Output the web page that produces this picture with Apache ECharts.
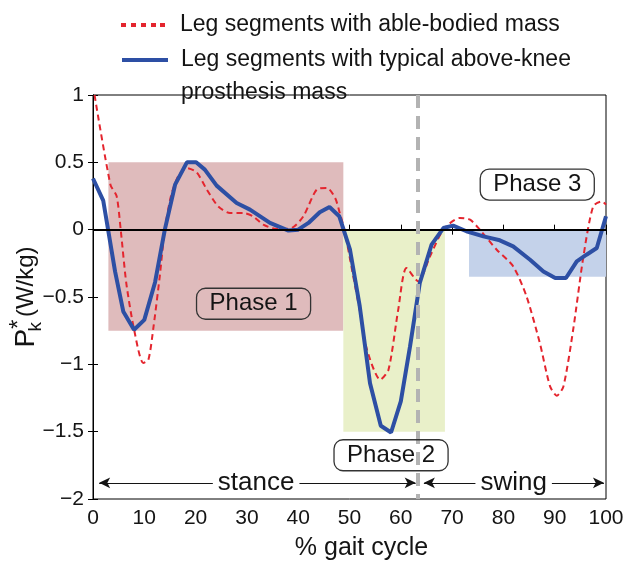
<!DOCTYPE html>
<html><head><meta charset="utf-8">
<script src="https://cdn.jsdelivr.net/npm/echarts@6/dist/echarts.min.js"></script>
<style>html,body{margin:0;padding:0;background:#fff}#c{width:631px;height:561px}</style>
</head><body><div id="c"></div>
<script>
// ---- data ----
const blueX = [0,2,4.3,5.9,8,10,12.1,14,16,18.3,20.1,21.8,24.1,28,30.6,34.5,38.1,40,42,44.2,46.1,48,50.1,52,54,56.1,58.1,60,61.8,63.7,66,68.3,70.2,72.8,76.1,79.3,81.9,85.2,87.8,90.1,92.2,94.3,96.2,98.2,100];
const blueY = [0.38,0.215,-0.31,-0.607,-0.743,-0.67,-0.39,0,0.334,0.5,0.5,0.446,0.327,0.198,0.149,0.05,-0.007,0,0.05,0.129,0.168,0.1,-0.149,-0.57,-1.14,-1.456,-1.506,-1.275,-0.867,-0.396,-0.111,0.012,0.03,-0.012,-0.05,-0.079,-0.124,-0.223,-0.31,-0.359,-0.359,-0.235,-0.186,-0.136,0.1];
const redX = [0.3,3.4,4.6,5.4,6.5,8,9.8,10.8,11.8,13,14,15.2,16.6,18.3,20.2,22.2,24.4,26.7,29.3,31.2,33.2,35.8,38.7,41,43.6,45.6,47.2,48.1,49,50.5,52,53.4,56,57.6,59.5,61.1,63.4,65.7,68.3,71.5,73.5,75.4,78.7,81.9,84.5,87.1,89.1,90.4,91.7,93.6,95.6,97.5,99.2,100];
const redY = [1.0,0.334,0.25,0,-0.4,-0.74,-0.99,-0.966,-0.72,-0.35,0,0.25,0.396,0.458,0.426,0.297,0.173,0.124,0.124,0.099,0.037,0.005,0.012,0.099,0.297,0.31,0.235,0.124,0,-0.3,-0.6,-0.89,-1.114,-1.04,-0.594,-0.285,-0.384,-0.198,0,0.087,0.074,0,-0.149,-0.272,-0.495,-0.842,-1.164,-1.233,-1.164,-0.743,-0.198,0.173,0.21,0.186];
const seriesNames = ['Leg segments with able-bodied mass','Leg segments with typical above-knee\nprosthesis mass'];
// phase boxes: [x0, y0, x1, y1]
const phaseBoxes = [[3.0,0.5,48.8,-0.75],[48.8,0,68.6,-1.5],[73.3,0,100,-0.35]];
const phaseNames = ['Phase 1','Phase 2','Phase 3'];
const phaseLabelPos = [[31.3,-0.55],[58.1,-1.675],[86.6,0.334]];
const toeOff = 63.4;
const arrowY = -1.88;
const stanceSpan = [1.2,62.9];
const swingSpan = [64.5,99.6];
const gaitNames = ['stance','swing'];
const gaitLabelPos = [[31.8,-1.88],[82,-1.88]];
const xTicks = {min:0,max:100,interval:10};
const yTicks = {min:-2,max:1,interval:0.5};

const FONT = 'Liberation Sans, Arial, Helvetica, sans-serif';
const phaseColors = ['#dfbbbc','#e9f0c9','#c4d2ea'];
const RED = '#e4252e', BLUE = '#2d4fa4', INK = '#141414';
const pair = (xs,ys)=>xs.map((x,i)=>[x,ys[i]]);

const chart = echarts.init(document.getElementById('c'), null, {renderer:'canvas'});
const fmtY = v => (v<0?'\u2212':'') + Math.abs(v);

const legendCommon = {
  orient:'vertical', padding:0, itemWidth:54, selectedMode:false,
  textStyle:{fontSize:23,lineHeight:33,color:INK,fontFamily:FONT}
};
// legend key icons: short red dashes / solid blue bar (invisible corner point fixes the box size)
const redKey = 'path://M0,0h5v4h-5zM10,0h5v4h-5zM20,0h5v4h-5zM30,0h5v4h-5zM39,0h5v4h-5zM53.99,0h0.01v0.01h-0.01z';
const blueKey = 'path://M0,0h46v4h-46zM53.99,36.99h0.01v0.01h-0.01z';

chart.setOption({
  animation:false,
  textStyle:{fontFamily:FONT},
  grid:{left:93,right:25,top:95,bottom:62,show:true,borderColor:'#000',borderWidth:1,
        backgroundColor:'transparent',outerBoundsMode:'none',containLabel:false},
  legend:[
    Object.assign({}, legendCommon, {left:121, top:8.5, itemHeight:4,
      data:[{name:seriesNames[0], icon:redKey, itemStyle:{color:RED,borderWidth:0}}]}),
    Object.assign({}, legendCommon, {left:122, top:43.5, itemHeight:37,
      data:[{name:seriesNames[1], icon:blueKey, itemStyle:{color:BLUE,borderWidth:0}}]})
  ],
  xAxis:[{
    type:'value', min:xTicks.min, max:xTicks.max, interval:xTicks.interval,
    name:'% gait cycle', nameLocation:'middle', nameGap:37, nameMoveOverlap:false,
    nameTextStyle:{fontSize:25,color:INK,padding:[0,0,0,24]},
    axisLine:{show:true,lineStyle:{color:'#000',width:1}},
    axisTick:{show:true,inside:true,length:5,lineStyle:{color:'#000'}},
    axisLabel:{fontSize:21,color:INK,margin:9},
    splitLine:{show:false}
  },{
    type:'value', position:'top', min:xTicks.min, max:xTicks.max, interval:xTicks.interval,
    axisLine:{show:true,lineStyle:{color:'#000'}},
    axisTick:{show:true,inside:true,length:5,lineStyle:{color:'#000'}},
    axisLabel:{show:false}, splitLine:{show:false}
  }],
  yAxis:[{
    type:'value', min:yTicks.min, max:yTicks.max, interval:yTicks.interval,
    name:'{p|P}{s|*}{k|k}{n|(W/kg)}', nameLocation:'middle', nameGap:48, nameRotate:90, nameMoveOverlap:false,
    nameTextStyle:{
      color:INK,
      rich:{
        p:{fontSize:28,fontFamily:FONT,color:INK,lineHeight:38},
        s:{fontSize:24,fontFamily:FONT,color:INK,verticalAlign:'top',lineHeight:22},
        k:{fontSize:19,fontFamily:FONT,color:INK,verticalAlign:'bottom',lineHeight:18,padding:[0,0,0,-12]},
        n:{fontSize:24,fontFamily:FONT,color:INK,lineHeight:38,padding:[0,0,0,5]}
      }
    },
    axisLine:{show:true,lineStyle:{color:'#000',width:1}},
    axisTick:{show:true,inside:true,length:5,lineStyle:{color:'#000'}},
    axisLabel:{fontSize:21,color:INK,margin:9,formatter:fmtY},
    splitLine:{show:false}
  },{
    type:'value', position:'right', min:yTicks.min, max:yTicks.max, interval:yTicks.interval,
    axisLine:{show:true,lineStyle:{color:'#000'}},
    axisTick:{show:true,inside:true,length:5,lineStyle:{color:'#000'}},
    axisLabel:{show:false}, splitLine:{show:false}
  }],
  series:[
    {
      name:'phases', type:'line', data:[], z:1, silent:true,
      markArea:{silent:true, data: phaseBoxes.map((b,i)=>[
        {coord:[b[0],b[1]], itemStyle:{color:phaseColors[i],opacity:1}},
        {coord:[b[2],b[3]]}
      ])}
    },
    {
      name:'refs', type:'line', data:[], z:2, silent:true,
      markLine:{silent:true, symbol:['none','none'], label:{show:false},
        data:[
          [{coord:[xTicks.min,0],lineStyle:{color:'#000',width:2,type:'solid'}},{coord:[xTicks.max,0]}],
          [{coord:[toeOff,yTicks.max],lineStyle:{color:'#b3b3b3',width:4,type:[13,8]}},{coord:[toeOff,yTicks.min]}]
        ]}
    },
    {
      name:'arrows', type:'line', data:[], z:2, silent:true,
      markLine:{silent:true, symbol:['arrow','arrow'], symbolSize:[8,11], label:{show:false},
        lineStyle:{color:INK,width:1,type:'solid'},
        data:[
          [{coord:[stanceSpan[0],arrowY]},{coord:[stanceSpan[1],arrowY]}],
          [{coord:[swingSpan[0],arrowY]},{coord:[swingSpan[1],arrowY]}]
        ]}
    },
    {
      name:seriesNames[0], type:'line', data:pair(redX,redY), z:3,
      symbol:'none', smooth:0.25, clip:true,
      lineStyle:{color:RED,width:2,type:[6,4]}, itemStyle:{color:RED}
    },
    {
      name:seriesNames[1], type:'line', data:pair(blueX,blueY), z:4,
      symbol:'none', clip:true,
      lineStyle:{color:BLUE,width:4}, itemStyle:{color:BLUE}
    },
    {
      name:'gait', type:'scatter', z:5, symbolSize:0, silent:true,
      itemStyle:{opacity:1},
      data: gaitLabelPos.map((p,i)=>({value:p, name:gaitNames[i]})),
      label:{show:true, position:'inside', formatter:p=>p.name, fontSize:26, color:INK, opacity:1,
        backgroundColor:'#fff', padding:[0,5]}
    },
    {
      name:'phaseLabels', type:'scatter', z:6, symbolSize:0, silent:true,
      itemStyle:{opacity:1},
      data: phaseLabelPos.map((p,i)=>({value:p, name:phaseNames[i]})),
      label:{show:true, position:'inside', formatter:p=>p.name, fontSize:24, color:INK, opacity:1,
        borderColor:'#333', borderWidth:1.3, borderRadius:9, padding:[4,13,3,13]}
    }
  ]
});
</script></body></html>
